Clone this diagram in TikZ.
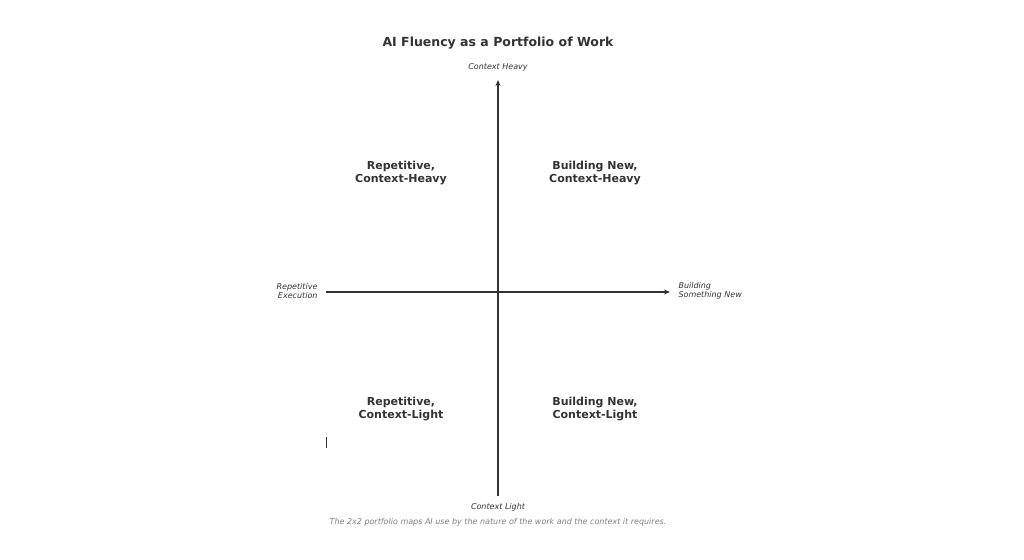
\documentclass[tikz,border=0pt]{standalone}
\usepackage{fontspec}
\setmainfont{DejaVu Sans}
\usetikzlibrary{arrows.meta, positioning}
\definecolor{inkgray}{HTML}{333333}
\tikzset{
    axis/.style={draw=inkgray, line width=1.1pt, -{Stealth[length=6pt, width=5pt]}},
    quad/.style={font=\bfseries\fontsize{11}{13}\selectfont, text=inkgray, align=center},
    axlabel/.style={font=\itshape\fontsize{8}{9.5}\selectfont, text=inkgray, align=center},
}
\begin{document}
\begin{tikzpicture}[x=1pt, y=-1pt]
    \useasboundingbox (0,0) rectangle (1024,559);
    \node[font=\bfseries\fontsize{12.5}{15}\selectfont, text=inkgray] (title) at (498,43) {AI Fluency as a Portfolio of Work};
    % axes
    \coordinate (bottom) at (498,496);
    \coordinate (top) at (498,80);
    \coordinate (left) at (326,292);
    \coordinate (right) at (670,292);
    \draw[axis] (bottom) -- (top);
    \draw[axis] (left) -- (right);
    \node[axlabel] (heavy) at (498,67) {Context Heavy};
    \node[axlabel] (light) at (498,507) {Context Light};
    \node[axlabel, anchor=east, align=right] (rep) at (321,291) {Repetitive\\Execution};
    \node[axlabel, anchor=west, align=left] (new) at (675,291) {Building\\Something New};
    % quadrants
    \node[quad] (rh) at (401,173) {Repetitive,\\Context-Heavy};
    \node[quad] (nh) at (595,173) {Building New,\\Context-Heavy};
    \node[quad] (rl) at (401,409) {Repetitive,\\Context-Light};
    \node[quad] (nl) at (595,409) {Building New,\\Context-Light};
    \draw[inkgray, line width=1pt] (326,437) -- (326,448);
    \node[axlabel, text=gray] (caption) at (498,522) {The 2x2 portfolio maps AI use by the nature of the work and the context it requires.};
\end{tikzpicture}
\end{document}
